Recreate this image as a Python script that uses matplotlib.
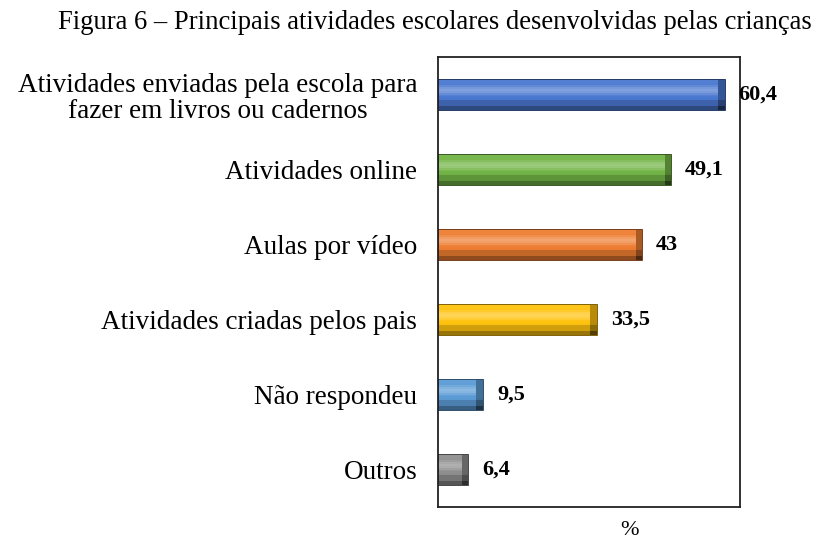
import matplotlib.pyplot as plt
import matplotlib.colors as mcolors
import numpy as np

categories = [
    "Atividades enviadas pela escola para\nfazer em livros ou cadernos",
    "Atividades online",
    "Aulas por vídeo",
    "Atividades criadas pelos pais",
    "Não respondeu",
    "Outros",
]
values = [60.4, 49.1, 43, 33.5, 9.5, 6.4]
value_labels = ["60,4", "49,1", "43", "33,5", "9,5", "6,4"]
bar_colors = ["#4a78d0", "#72b446", "#ee7d32", "#ffc20e", "#5b9bd5", "#8e8e8e"]

SERIF = ['Liberation Serif', 'DejaVu Serif']
plt.rcParams['font.family'] = SERIF

fig = plt.figure(figsize=(8.15, 5.4), dpi=100)
ax = fig.add_axes([0.5374, 0.0611, 0.3706, 0.8333])

y = np.arange(len(categories))
bar_h = 0.41
n_slices = 16
cap = 1.4  # width of the darker bevel at the bar end, in data units


def shade(color, f):
    # f > 0 lightens, f < 0 darkens
    c = np.array(mcolors.to_rgb(color))
    if f >= 0:
        return tuple(c + (1 - c) * f)
    return tuple(c * (1 + f))


def profile(t):
    # t = 0 bottom of bar, t = 1 top
    if t < 0.15:
        return -0.4
    if t < 0.3:
        return -0.18
    if t > 0.88:
        return 0.05
    return 0.32 * np.exp(-((t - 0.65) / 0.15) ** 2) - 0.02


# fake bevel: stack thin horizontal slices
for yi, v, col, lab in zip(y, values, bar_colors, value_labels):
    edges = np.linspace(-bar_h / 2, bar_h / 2, n_slices + 1)
    for k in range(n_slices):
        t = (k + 0.5) / n_slices
        f = profile(t)
        yc = yi - (edges[k] + edges[k + 1]) / 2  # inverted y axis
        hh = edges[k + 1] - edges[k]
        ax.barh(yc, v, height=hh, color=shade(col, f), linewidth=0)
        ax.barh(yc, cap, left=v - cap, height=hh,
                color=shade(col, min(f, 0) - 0.28), linewidth=0)
    ax.barh(yi, v, height=bar_h, fill=False,
            edgecolor=shade(col, -0.5), linewidth=0.7)
    ax.annotate(lab, (v, yi), xytext=(10, 0), textcoords="offset points",
                va="center", ha="left", fontsize=16, fontweight="bold",
                family=SERIF)

ax.set_xlim(0, 63.6)
ax.set_ylim(len(categories) - 0.5, -0.5)
ax.set_yticks(y)
ax.set_yticklabels(categories, fontsize=19.5, family=SERIF,
                   multialignment="center", linespacing=1.1)
ax.tick_params(axis="y", length=0, pad=15)
ax.set_xticks([])
for s in ax.spines.values():
    s.set_color("#222222")
    s.set_linewidth(1.3)

ax.set_xlabel("%", fontsize=16, family=SERIF)
ax.xaxis.set_label_coords(0.635, -0.03)

fig.text(0.534, 0.959, "Figura 6 – Principais atividades escolares desenvolvidas pelas crianças",
         ha="center", va="center", fontsize=19.2, family=SERIF)

fig.savefig("out.png", dpi=100)
